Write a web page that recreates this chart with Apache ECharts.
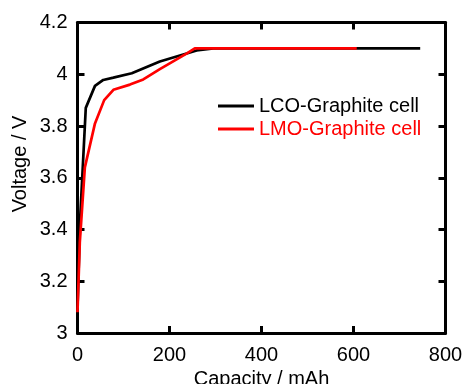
<!DOCTYPE html>
<html>
<head>
<meta charset="utf-8">
<script src="https://cdn.jsdelivr.net/npm/echarts@6/dist/echarts.min.js"></script>
<style>
html,body{margin:0;padding:0;background:#fff;}
#chart{width:462px;height:384px;}
</style>
</head>
<body>
<div id="chart"></div>
<script>
// Data
var lcoCapacity = [0, 6, 18, 38, 56, 78, 118, 179, 259, 295, 745];
var lcoVoltage  = [3.1, 3.45, 3.87, 3.955, 3.978, 3.987, 4.004, 4.049, 4.092, 4.10, 4.10];
var lmoCapacity = [0, 5, 16, 38, 58, 78, 114, 143, 179, 237, 255, 607];
var lmoVoltage  = [3.08, 3.35, 3.64, 3.81, 3.90, 3.94, 3.96, 3.98, 4.02, 4.08, 4.10, 4.10];
var seriesNames = ['LCO-Graphite cell', 'LMO-Graphite cell'];
var xTitle = 'Capacity / mAh';
var yTitle = 'Voltage / V';

function pairs(xs, ys){ return xs.map(function(x,i){ return [x, ys[i]]; }); }

var font = 'Liberation Sans, Arial, sans-serif';
var axisLine = {show:true, onZero:false, lineStyle:{color:'#000', width:3}};
var tick = {show:true, inside:true, length:7, lineStyle:{color:'#000', width:3}};

var chart = echarts.init(document.getElementById('chart'));
chart.setOption({
  animation:false,
  backgroundColor:'#fff',
  grid:{left:77.5, right:16.5, top:22.5, bottom:51, containLabel:false, outerBoundsMode:'none'},
  legend:{
    orient:'vertical', left:213, top:91, icon:'rect', itemWidth:36, itemHeight:3, itemGap:3,
    textStyle:{fontFamily:font, fontSize:20, color:'#000'},
    data:[{name:seriesNames[0], textStyle:{color:'#000'}},
          {name:seriesNames[1], textStyle:{color:'#ff0000'}}]
  },
  xAxis:[{
    type:'value', min:0, max:800, interval:200, position:'bottom',
    name:xTitle, nameLocation:'middle', nameGap:36,
    nameTextStyle:{fontFamily:font, fontSize:20, color:'#000', verticalAlign:'top'},
    axisLine:axisLine, axisTick:tick,
    axisLabel:{margin:12, fontFamily:font, fontSize:20, color:'#000'},
    splitLine:{show:false}
  },{
    type:'value', min:0, max:800, interval:200, position:'top',
    axisLine:axisLine, axisTick:tick, axisLabel:{show:false}, splitLine:{show:false}
  }],
  yAxis:[{
    type:'value', min:3, max:4.2, interval:0.2, position:'left',
    axisLine:axisLine, axisTick:tick,
    axisLabel:{margin:10, fontFamily:font, fontSize:20, color:'#000'},
    splitLine:{show:false}
  },{
    type:'value', min:3, max:4.2, interval:0.2, position:'right',
    axisLine:axisLine, axisTick:tick, axisLabel:{show:false}, splitLine:{show:false}
  }],
  graphic:[{
    type:'text', x:20, y:164, rotation:Math.PI/2,
    style:{text:yTitle, fontFamily:font, fontSize:20, fill:'#000', align:'center', verticalAlign:'middle'}
  }],
  series:[{
    name:seriesNames[0], type:'line', xAxisIndex:0, yAxisIndex:0,
    data:pairs(lcoCapacity, lcoVoltage), symbol:'none', smooth:false,
    lineStyle:{color:'#000', width:2.7}, itemStyle:{color:'#000'}, z:2
  },{
    name:seriesNames[1], type:'line', xAxisIndex:0, yAxisIndex:0,
    data:pairs(lmoCapacity, lmoVoltage), symbol:'none', smooth:false,
    lineStyle:{color:'#ff0000', width:2.7}, itemStyle:{color:'#ff0000'}, z:3
  }]
});
</script>
</body>
</html>
